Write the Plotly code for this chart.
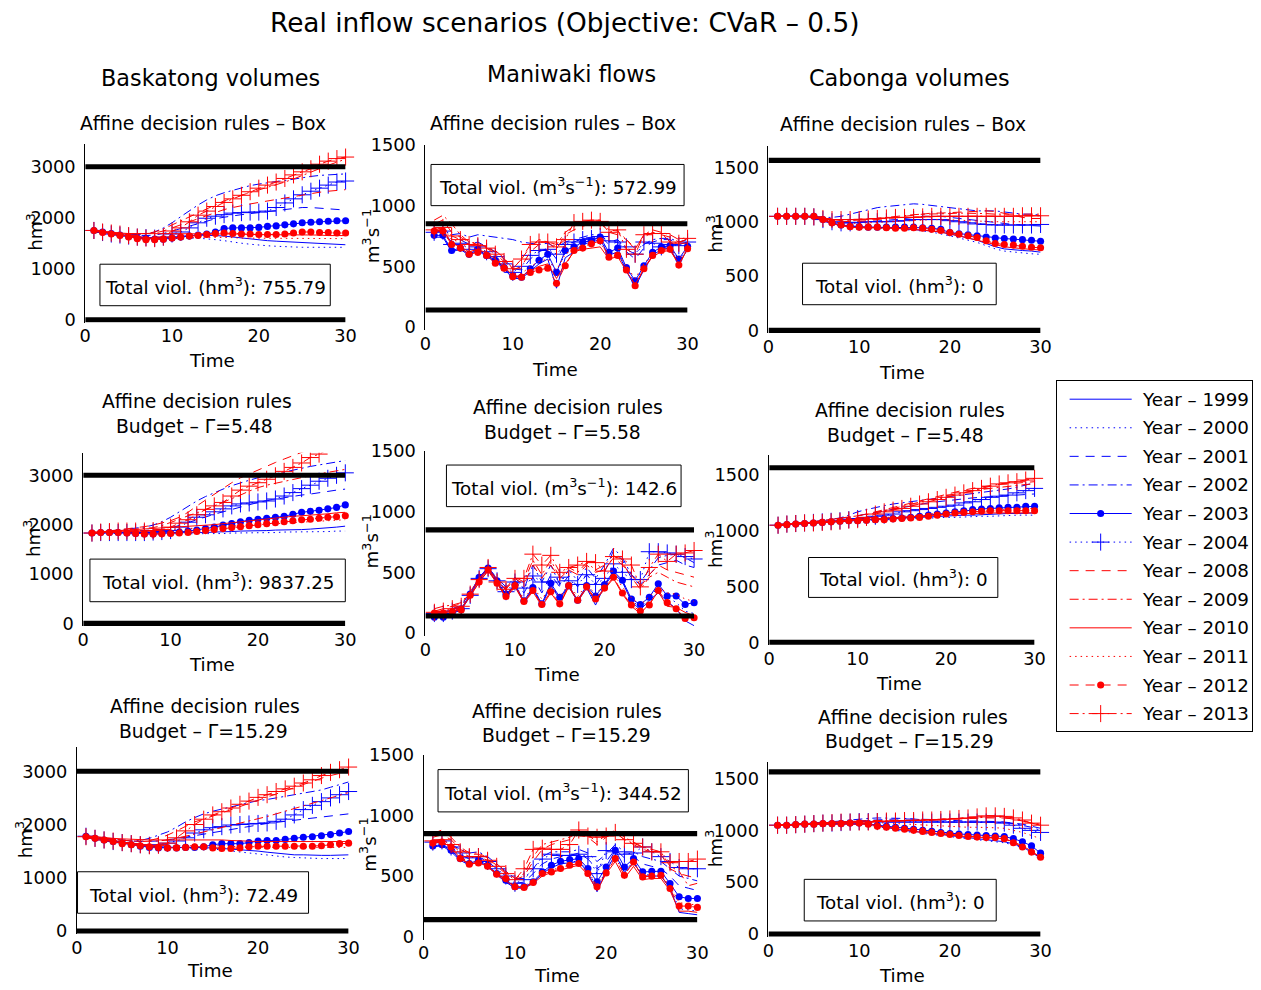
import plotly.graph_objects as go

# Layout is written in target-image pixels.  The page is captured from a
# 1280px-wide view (with the browser's 8px body margin) and fitted to
# 1261px, so target pixels are converted to figure pixels below.
S = 1261 / 1280
BODY = 8
W, H = 1264, 989
FONT = "DejaVu Sans"


def px(v):
    return v / S - BODY


def fx(x):
    return min(1.0, max(0.0, px(x) / W))


def fy(y):
    return min(1.0, max(0.0, 1 - px(y) / H))


def fs(size):
    return size / S


# ---------------------------------------------------------------- data
years = ["1999", "2000", "2001", "2002", "2003", "2004",
         "2008", "2009", "2010", "2011", "2012", "2013"]
time = list(range(1, 31))

# Baskatong volumes (hm3), one list per year, in the order of `years`
baskatong_box = [
    [1750,1720,1690,1660,1630,1610,1600,1600,1610,1620,1640,1650,1660,1660,1650,1640,1620,1600,1580,1560,1550,1540,1530,1520,1510,1500,1500,1490,1480,1470],
    [1750,1710,1680,1650,1620,1600,1590,1580,1580,1590,1600,1600,1600,1590,1570,1550,1520,1500,1480,1460,1450,1440,1430,1430,1420,1420,1420,1420,1420,1420],
    [1750,1720,1700,1680,1660,1650,1650,1660,1690,1740,1790,1840,1890,1940,1980,2010,2040,2060,2080,2100,2120,2140,2160,2180,2200,2200,2190,2180,2170,2150],
    [1750,1720,1700,1680,1670,1670,1680,1720,1800,1900,2020,2140,2250,2350,2430,2490,2540,2590,2630,2660,2690,2710,2730,2760,2790,2810,2830,2840,2850,2860],
    [1750,1720,1690,1660,1630,1600,1590,1580,1580,1600,1620,1640,1660,1680,1720,1790,1800,1800,1800,1810,1830,1840,1860,1880,1900,1910,1920,1930,1940,1940],
    [1750,1710,1680,1660,1640,1620,1610,1600,1620,1680,1720,1800,1900,1990,2030,2060,2090,2100,2110,2110,2130,2200,2290,2370,2450,2520,2580,2640,2700,2720],
    [1750,1720,1700,1690,1680,1680,1690,1700,1740,1800,1860,1920,1980,2040,2100,2160,2200,2240,2270,2300,2330,2360,2390,2420,2450,2480,2500,2520,2540,2550],
    [1750,1720,1700,1690,1680,1680,1690,1720,1780,1860,1940,2020,2100,2180,2260,2330,2390,2440,2490,2540,2590,2640,2700,2760,2830,2900,2970,3030,3090,3150],
    [1750,1730,1710,1700,1690,1690,1690,1690,1690,1690,1690,1690,1690,1690,1690,1690,1680,1680,1670,1670,1660,1660,1660,1660,1660,1660,1660,1650,1650,1650],
    [1750,1720,1690,1660,1640,1620,1610,1600,1600,1600,1600,1610,1620,1620,1620,1620,1610,1600,1600,1590,1590,1590,1590,1590,1590,1590,1590,1590,1590,1590],
    [1750,1710,1680,1650,1620,1590,1570,1570,1580,1600,1620,1640,1650,1670,1690,1700,1690,1680,1680,1670,1670,1670,1680,1700,1720,1720,1710,1710,1700,1700],
    [1750,1720,1700,1680,1650,1620,1600,1590,1620,1740,1800,1920,2050,2130,2220,2300,2370,2440,2510,2580,2640,2700,2770,2840,2900,2960,3050,3110,3160,3190],
]

# Maniwaki flows (m3/s)
maniwaki_box = [
    [740,740,620,640,590,630,580,540,480,400,400,460,520,560,320,570,620,680,700,720,590,620,460,330,470,590,640,650,520,640],
    [750,760,630,650,600,640,590,550,490,410,410,480,540,590,430,620,650,690,720,730,610,640,480,360,500,610,650,660,550,650],
    [780,790,700,720,680,700,660,620,560,480,470,560,620,650,560,680,700,730,740,750,680,700,620,560,650,700,720,720,680,700],
    [790,800,760,770,740,760,750,740,730,720,700,690,680,690,650,700,720,740,760,760,700,720,640,600,680,720,730,730,700,720],
    [755,755,630,650,600,640,590,550,490,420,410,480,550,600,450,630,660,700,710,740,615,650,490,380,505,615,660,670,560,665],
    [780,790,680,690,640,660,620,580,520,450,500,590,630,640,600,680,700,720,730,745,710,700,660,600,700,690,660,680,670,700],
    [850,880,780,740,700,680,650,620,560,470,500,620,680,700,640,760,800,830,850,860,780,760,720,650,740,780,760,740,700,720],
    [880,920,850,760,700,690,660,630,570,480,560,660,720,700,680,780,830,860,880,880,800,790,720,640,760,800,780,760,720,740],
    [790,800,690,660,620,640,610,560,500,420,420,460,500,520,400,520,620,640,650,660,560,580,460,350,480,580,620,630,520,640],
    [800,820,720,700,640,650,620,580,520,440,440,500,540,560,470,600,650,670,680,690,600,610,500,400,520,600,640,650,560,650],
    [790,790,680,650,600,615,590,525,485,415,410,450,470,485,360,505,630,650,685,710,575,590,470,340,480,590,630,640,510,645],
    [800,820,750,720,680,670,650,600,540,480,560,680,700,700,660,720,860,870,880,870,780,800,640,600,760,770,770,700,690,730],
]

# Cabonga volumes (hm3)
cabonga_box = [
    [1050,1050,1050,1050,1040,1010,985,965,955,950,950,950,945,940,935,930,925,915,905,890,870,850,830,800,770,750,740,735,730,720],
    [1050,1050,1050,1050,1040,1010,980,960,950,945,945,945,940,935,930,925,915,905,890,870,850,830,810,780,750,730,720,710,705,700],
    [1050,1050,1050,1050,1045,1030,1010,1000,995,995,1000,1005,1010,1020,1030,1040,1050,1050,1050,1040,1030,1020,1010,1000,990,980,975,970,965,960],
    [1050,1050,1050,1050,1045,1040,1040,1050,1070,1090,1110,1130,1140,1150,1160,1165,1160,1150,1140,1130,1120,1110,1100,1100,1100,1090,1080,1070,1070,1060],
    [1050,1050,1050,1050,1050,1020,990,970,960,955,950,950,950,950,950,950,945,940,930,900,890,880,870,860,850,845,840,835,830,820],
    [1050,1050,1050,1050,1045,1020,1000,990,990,995,1000,1000,1000,1005,1010,1020,1020,1020,1020,1010,1000,990,980,975,970,970,970,970,970,975],
    [1050,1050,1050,1050,1045,1030,1010,1000,1000,1005,1010,1020,1030,1040,1050,1060,1070,1080,1080,1085,1090,1095,1100,1100,1095,1080,1060,1040,1030,1030],
    [1050,1050,1050,1050,1045,1035,1020,1010,1010,1015,1020,1030,1040,1050,1060,1065,1070,1070,1070,1075,1080,1080,1080,1075,1070,1070,1070,1070,1070,1070],
    [1050,1050,1050,1050,1040,1010,985,965,950,945,945,945,945,940,935,930,925,915,905,890,870,850,830,810,790,770,760,750,745,740],
    [1050,1050,1050,1050,1045,1025,1000,990,985,985,990,995,1000,1005,1010,1015,1020,1020,1020,1020,1015,1010,1005,1000,1000,1000,1000,1000,1000,1000],
    [1050,1050,1050,1050,1050,1020,990,970,955,950,950,950,945,940,940,945,940,930,920,900,885,870,855,825,800,790,785,775,765,760],
    [1050,1050,1050,1050,1045,1030,1020,1020,1020,1020,1025,1030,1035,1040,1040,1040,1045,1050,1050,1050,1050,1050,1050,1050,1050,1050,1050,1055,1055,1055],
]

baskatong_budget_a = [
    [1830,1830,1830,1830,1830,1830,1830,1830,1830,1830,1830,1830,1840,1840,1850,1850,1860,1870,1870,1880,1880,1890,1890,1900,1900,1910,1920,1930,1950,1970],
    [1830,1830,1820,1820,1820,1810,1810,1810,1810,1810,1810,1810,1810,1820,1820,1820,1830,1830,1830,1840,1840,1840,1850,1850,1850,1860,1860,1860,1870,1870],
    [1830,1840,1850,1860,1870,1880,1880,1890,1900,1930,1980,2040,2100,2160,2210,2260,2310,2360,2410,2450,2490,2520,2550,2580,2600,2620,2650,2680,2700,2720],
    [1830,1850,1870,1890,1910,1930,1950,1990,2060,2150,2260,2380,2480,2570,2650,2720,2790,2850,2900,2950,2990,3030,3070,3110,3150,3180,3210,3240,3270,3300],
    [1830,1840,1840,1840,1830,1820,1810,1810,1820,1830,1850,1870,1890,1920,1950,1990,2020,2060,2090,2110,2130,2150,2170,2210,2250,2270,2290,2320,2350,2400],
    [1830,1840,1840,1840,1840,1840,1840,1850,1860,1880,1950,2050,2150,2200,2260,2320,2380,2420,2440,2460,2480,2520,2580,2650,2730,2800,2880,2940,3000,3050],
    [1830,1850,1870,1890,1910,1930,1960,1990,2030,2080,2150,2250,2380,2500,2620,2740,2850,2950,3030,3110,3190,3260,3330,3400,3470,3540,3600,3650,3700,3750],
    [1830,1850,1870,1890,1900,1910,1920,1940,1980,2040,2110,2180,2240,2300,2380,2450,2530,2600,2680,2750,2800,2840,2880,2920,2960,3000,3030,3060,3090,3120],
    [1840,1860,1870,1880,1890,1900,1910,1920,1930,1950,1960,1970,1980,1990,2000,2020,2040,2060,2080,2100,2120,2140,2150,2170,2180,2190,2210,2220,2240,2250],
    [1830,1840,1850,1860,1860,1860,1870,1870,1880,1890,1900,1910,1920,1930,1940,1950,1960,1980,1990,2000,2010,2020,2030,2040,2050,2060,2070,2080,2090,2100],
    [1830,1840,1840,1840,1830,1820,1810,1810,1815,1820,1830,1840,1860,1880,1900,1920,1940,1960,1980,2000,2020,2040,2060,2080,2100,2110,2130,2150,2160,2180],
    [1830,1850,1860,1870,1870,1870,1870,1880,1900,1950,2030,2100,2200,2310,2380,2450,2580,2700,2780,2850,2920,2990,3080,3160,3250,3360,3430,3520,3600,3680],
]

maniwaki_budget_a = [
    [130,130,160,190,300,450,520,420,310,390,250,360,230,390,280,380,260,370,230,390,490,420,260,190,270,330,260,200,100,60],
    [140,140,170,200,310,450,530,430,320,400,260,370,240,400,290,390,270,380,250,400,500,430,270,210,290,380,300,250,180,160],
    [170,180,200,230,330,460,540,440,350,420,330,460,330,480,380,470,380,480,400,500,680,600,450,400,480,560,580,600,560,540],
    [160,170,190,220,320,460,540,450,380,460,360,560,420,560,400,520,430,540,450,560,700,620,480,420,520,620,640,650,620,580],
    [130,130,170,200,320,460,535,430,320,400,265,375,240,410,295,390,270,390,305,400,510,435,280,235,295,405,305,305,235,250],
    [160,160,180,200,310,450,530,430,340,420,370,470,420,420,460,430,400,480,400,450,570,500,440,440,670,670,660,650,630,610],
    [180,200,220,240,330,450,530,440,360,450,400,560,450,560,450,520,480,560,500,520,620,560,480,380,480,560,520,500,480,460],
    [200,220,230,250,340,450,530,440,370,460,420,600,480,600,460,540,500,580,520,560,640,580,460,360,460,500,460,420,400,380],
    [150,160,180,200,300,420,510,410,290,380,250,340,220,330,230,380,260,370,270,360,450,320,220,160,240,340,220,210,170,140],
    [160,170,180,200,310,430,520,420,310,400,280,380,280,380,300,400,300,400,320,400,480,380,290,230,300,380,330,320,280,260],
    [165,165,175,190,310,420,520,410,300,390,260,350,235,340,240,390,270,380,280,370,460,330,230,180,230,350,250,200,120,125],
    [170,180,200,220,320,440,540,420,360,450,450,650,560,640,500,540,560,590,580,510,630,610,560,380,540,650,590,650,660,680],
]

cabonga_budget_a = [
    [1050,1055,1060,1065,1070,1075,1080,1085,1090,1095,1100,1105,1110,1110,1115,1120,1120,1125,1130,1130,1135,1140,1140,1145,1150,1150,1155,1155,1160,1160],
    [1050,1055,1060,1060,1065,1070,1075,1080,1085,1090,1090,1095,1100,1100,1105,1110,1110,1115,1115,1120,1120,1125,1125,1130,1130,1135,1135,1140,1140,1140],
    [1050,1060,1065,1070,1080,1085,1095,1105,1120,1135,1150,1165,1180,1195,1210,1225,1240,1250,1260,1270,1280,1290,1295,1300,1305,1310,1315,1320,1325,1330],
    [1050,1060,1065,1075,1080,1090,1100,1115,1140,1170,1190,1210,1225,1240,1250,1260,1270,1280,1290,1300,1310,1320,1330,1340,1350,1360,1375,1390,1410,1430],
    [1050,1055,1060,1065,1070,1075,1080,1085,1090,1090,1095,1100,1105,1110,1115,1120,1130,1140,1150,1160,1170,1180,1190,1195,1200,1205,1210,1210,1220,1220],
    [1050,1060,1065,1070,1075,1080,1085,1090,1100,1110,1120,1130,1140,1150,1170,1180,1190,1200,1210,1220,1230,1250,1260,1280,1300,1310,1320,1340,1360,1380],
    [1050,1060,1070,1075,1080,1090,1100,1110,1120,1135,1150,1170,1190,1210,1230,1250,1270,1290,1310,1330,1350,1365,1380,1395,1405,1415,1420,1430,1435,1440],
    [1050,1060,1070,1075,1080,1090,1100,1110,1120,1130,1145,1160,1180,1200,1220,1240,1260,1280,1300,1315,1330,1345,1360,1370,1380,1390,1400,1410,1415,1420],
    [1055,1060,1065,1070,1075,1080,1085,1090,1095,1100,1100,1105,1110,1115,1120,1125,1130,1135,1140,1145,1150,1155,1155,1160,1160,1160,1160,1160,1160,1160],
    [1050,1060,1065,1070,1075,1080,1085,1090,1095,1100,1105,1110,1115,1120,1130,1135,1140,1150,1155,1160,1165,1170,1175,1180,1185,1190,1195,1195,1200,1200],
    [1050,1055,1060,1065,1070,1075,1080,1085,1090,1090,1095,1100,1100,1105,1110,1115,1120,1130,1140,1150,1160,1165,1170,1175,1180,1180,1180,1180,1180,1180],
    [1050,1060,1065,1070,1070,1075,1080,1085,1095,1100,1120,1150,1170,1185,1200,1220,1240,1260,1280,1300,1320,1340,1360,1380,1400,1420,1430,1440,1455,1470],
]

baskatong_budget_b = [
    [1780,1750,1720,1690,1660,1630,1610,1590,1580,1570,1570,1570,1570,1570,1560,1550,1540,1520,1510,1500,1480,1460,1440,1430,1430,1420,1420,1420,1425,1430],
    [1780,1740,1710,1680,1650,1620,1600,1580,1570,1560,1560,1560,1560,1550,1540,1520,1500,1480,1460,1440,1420,1400,1390,1380,1370,1360,1360,1360,1360,1360],
    [1780,1760,1740,1720,1700,1690,1680,1680,1690,1710,1730,1760,1790,1820,1850,1880,1910,1940,1970,2000,2020,2040,2060,2080,2100,2120,2140,2160,2180,2200],
    [1780,1760,1740,1720,1700,1690,1700,1740,1800,1860,1950,2050,2130,2200,2250,2290,2330,2370,2410,2450,2470,2500,2520,2550,2580,2610,2650,2700,2750,2800],
    [1780,1740,1710,1680,1650,1620,1590,1570,1560,1560,1560,1570,1570,1580,1620,1640,1640,1640,1660,1690,1700,1700,1720,1740,1760,1770,1790,1810,1840,1870],
    [1780,1740,1710,1680,1660,1640,1620,1610,1620,1650,1690,1750,1840,1900,1940,1960,1990,2000,2010,2020,2030,2060,2100,2180,2280,2360,2430,2500,2560,2620],
    [1780,1760,1740,1720,1700,1690,1690,1700,1740,1800,1880,1970,2050,2100,2160,2220,2280,2340,2400,2460,2520,2580,2640,2700,2760,2820,2870,2920,2960,3000],
    [1780,1760,1740,1720,1700,1690,1680,1680,1690,1710,1740,1780,1820,1860,1900,1940,1980,2020,2060,2100,2150,2200,2250,2300,2350,2400,2450,2500,2550,2600],
    [1790,1770,1750,1740,1730,1720,1710,1710,1710,1710,1710,1710,1720,1720,1710,1710,1700,1690,1690,1680,1680,1680,1680,1680,1680,1680,1680,1680,1680,1680],
    [1780,1750,1720,1690,1660,1640,1620,1610,1600,1600,1600,1600,1610,1610,1600,1600,1590,1580,1580,1570,1570,1570,1570,1570,1570,1570,1570,1570,1570,1570],
    [1770,1740,1710,1680,1640,1620,1600,1580,1570,1560,1560,1570,1580,1580,1560,1550,1550,1560,1580,1590,1590,1590,1590,1590,1590,1590,1600,1620,1640,1650],
    [1770,1740,1710,1690,1660,1640,1620,1600,1610,1650,1750,1880,2000,2100,2180,2240,2310,2380,2440,2510,2560,2620,2670,2720,2780,2840,2920,2980,3030,3080],
]

maniwaki_budget_b = [
    [740,750,700,630,590,620,580,510,450,400,400,440,520,570,600,610,620,530,370,540,680,530,610,500,500,500,400,200,190,180],
    [745,755,705,635,595,625,585,515,460,405,405,445,525,575,605,615,625,540,400,550,690,540,620,510,510,510,410,230,220,210],
    [770,780,740,680,640,660,620,560,500,440,450,520,600,640,660,670,690,640,560,620,720,650,660,600,580,560,500,420,400,380],
    [790,800,760,720,690,700,660,600,540,480,480,560,660,700,700,700,720,690,620,680,760,700,700,660,640,620,560,500,480,460],
    [748,759,712,644,603,630,589,520,466,411,411,452,534,589,622,636,644,562,452,575,712,575,644,534,540,540,438,329,315,315],
    [780,790,740,690,650,660,620,560,500,440,470,560,640,680,670,670,680,660,520,710,700,680,690,740,700,660,620,570,560,560],
    [820,840,800,720,680,680,640,590,530,470,500,620,720,760,780,800,840,820,760,820,860,800,760,720,700,680,560,520,500,480],
    [850,880,820,740,690,690,650,600,540,480,520,660,760,780,800,820,860,840,780,840,880,820,780,740,720,700,580,540,420,440],
    [780,790,730,650,600,610,580,510,460,410,400,440,500,530,550,570,590,510,380,520,620,480,580,470,480,480,380,210,210,200],
    [790,800,740,660,610,620,590,520,470,420,420,460,520,550,570,590,610,540,420,540,650,520,600,500,500,500,420,280,270,260],
    [772,781,740,644,597,608,581,515,479,411,405,447,521,534,562,589,603,521,411,526,644,507,616,493,499,507,397,252,252,241],
    [790,800,760,700,660,660,630,580,520,470,560,720,730,720,720,760,880,830,820,830,860,800,770,740,700,700,610,620,620,640],
]

cabonga_budget_b = [
    [1050,1050,1055,1060,1060,1065,1065,1065,1065,1065,1060,1050,1030,1010,1000,990,980,970,960,950,940,930,920,910,900,890,870,840,790,730],
    [1050,1050,1055,1060,1060,1060,1060,1060,1060,1060,1050,1040,1020,1000,990,980,970,960,950,940,930,920,910,900,890,880,860,830,780,710],
    [1050,1055,1060,1065,1070,1075,1080,1085,1090,1095,1100,1105,1110,1110,1110,1110,1110,1105,1100,1095,1090,1090,1090,1090,1085,1080,1070,1060,1040,1020],
    [1050,1055,1060,1070,1075,1080,1085,1090,1100,1110,1115,1120,1120,1120,1115,1110,1100,1090,1085,1080,1080,1080,1080,1080,1080,1075,1065,1050,1030,1000],
    [1050,1050,1055,1060,1060,1065,1065,1065,1070,1070,1065,1050,1040,1030,1020,1010,1000,990,980,970,965,960,955,950,945,940,920,890,850,780],
    [1050,1050,1055,1060,1065,1070,1070,1075,1080,1085,1085,1085,1080,1080,1080,1080,1080,1080,1080,1080,1080,1080,1080,1080,1080,1070,1050,1020,1000,980],
    [1050,1055,1060,1065,1070,1075,1080,1085,1090,1095,1095,1095,1095,1100,1100,1100,1100,1105,1110,1110,1110,1115,1120,1120,1120,1120,1110,1090,1070,1050],
    [1050,1055,1060,1065,1070,1075,1080,1085,1090,1090,1090,1090,1090,1090,1095,1095,1100,1100,1105,1110,1115,1120,1125,1130,1130,1125,1110,1090,1070,1060],
    [1050,1050,1055,1060,1060,1060,1060,1060,1065,1065,1060,1045,1030,1015,1000,990,980,970,960,950,945,940,935,930,925,920,890,850,800,740],
    [1050,1050,1055,1060,1065,1070,1070,1075,1075,1080,1080,1075,1070,1065,1060,1055,1050,1045,1040,1035,1030,1030,1030,1030,1025,1020,1000,980,950,920],
    [1050,1050,1055,1060,1060,1065,1065,1065,1070,1070,1060,1040,1030,1020,1010,1000,990,980,970,960,950,940,935,930,930,920,880,840,790,740],
    [1050,1050,1055,1060,1065,1070,1075,1080,1080,1080,1080,1085,1090,1090,1095,1095,1100,1100,1105,1110,1115,1120,1130,1140,1140,1135,1120,1100,1070,1050],
]

# operating bounds
baskatong_bounds = [0, 3000]
maniwaki_bounds = [140, 850]
cabonga_bounds = [0, 1565]

violations = ["755.79", "572.99", "0",
              "9837.25", "142.6", "0",
              "72.49", "344.52", "0"]
gammas = ["5.48", "5.58", "5.48", "15.29", "15.29", "15.29"]

# ---------------------------------------------------------------- styles
BLUE, RED = "#0000ff", "#ff0000"
DOT, DASH, DASHDOT = "1.5px,4px", "9px,7px", "9px,4px,2px,4px"
styles = [
    (BLUE, "solid", None), (BLUE, DOT, None), (BLUE, DASH, None),
    (BLUE, DASHDOT, None), (BLUE, "solid", "dot"), (BLUE, DOT, "plus"),
    (RED, DASH, None), (RED, DASHDOT, None), (RED, "solid", None),
    (RED, DOT, None), (RED, DASH, "dot"), (RED, DASHDOT, "plus"),
]


def marker_of(kind, color):
    if kind == "dot":
        return dict(symbol="circle", size=fs(7), color=color, line=dict(width=0))
    if kind == "plus":
        return dict(symbol="cross-thin", size=fs(12), color=color,
                    line=dict(width=1, color=color))
    return None


HM3 = "hm<sup>3</sup>"
FLOW = "m<sup>3</sup>s<sup>−1</sup>"

# panel geometry in target pixels: x=0, x=30, y=0, reference tick pixel/value, top
panels = [
    dict(data=baskatong_box, b=baskatong_bounds, unit=HM3, ticks=[0, 1000, 2000, 3000],
         l=87, r=347, p0=318.3, pr=165.0, rv=3000, top=142.7),
    dict(data=maniwaki_box, b=maniwaki_bounds, unit=FLOW, ticks=[0, 500, 1000, 1500],
         l=426.7, r=688.5, p0=325.7, pr=143.0, rv=1500, top=142.8),
    dict(data=cabonga_box, b=cabonga_bounds, unit=HM3, ticks=[0, 500, 1000, 1500],
         l=769.3, r=1041, p0=329.0, pr=165.7, rv=1500, top=144.7),
    dict(data=baskatong_budget_a, b=baskatong_bounds, unit=HM3, ticks=[0, 1000, 2000, 3000],
         l=85, r=346.7, p0=622.7, pr=474.3, rv=3000, top=451.7),
    dict(data=maniwaki_budget_a, b=maniwaki_bounds, unit=FLOW, ticks=[0, 500, 1000, 1500],
         l=426.7, r=695, p0=632.3, pr=450.0, rv=1500, top=449.8),
    dict(data=cabonga_budget_a, b=cabonga_bounds, unit=HM3, ticks=[0, 500, 1000, 1500],
         l=770, r=1035, p0=641.7, pr=474.0, rv=1500, top=454.0),
    dict(data=baskatong_budget_b, b=baskatong_bounds, unit=HM3, ticks=[0, 1000, 2000, 3000],
         l=78.7, r=350, p0=931.0, pr=771.0, rv=3000, top=747.0),
    dict(data=maniwaki_budget_b, b=maniwaki_bounds, unit=FLOW, ticks=[0, 500, 1000, 1500],
         l=425, r=698.3, p0=936.7, pr=754.5, rv=1500, top=754.3),
    dict(data=cabonga_budget_b, b=cabonga_bounds, unit=HM3, ticks=[0, 500, 1000, 1500],
         l=769.3, r=1041, p0=934.0, pr=778.3, rv=1500, top=761.7),
]

# text placements (target pixel centres)
ylabel_pos = [(36, 230), (372, 235), (715, 232), (34, 537), (372, 541),
              (715, 548), (26, 839), (370, 845), (715, 848)]
xlabel_pos = [(214, 359), (556, 368), (903, 371), (214, 664), (558, 674),
              (900, 683), (212, 971), (558, 976), (903, 976)]
box_rect = [(101.7, 262.7, 331.7, 304.3), (432.3, 162.7, 685, 204),
            (803.3, 261.7, 996.7, 303.3), (91.7, 558.3, 346.7, 601),
            (447.7, 464, 682, 505.7), (809.3, 556.7, 998.3, 596.7),
            (79.3, 871.7, 310, 913.3), (439.3, 769.3, 689.3, 811.7),
            (805, 879.3, 996.7, 921)]
title_box_pos = [(205, 122), (554.5, 122), (903.5, 123)]
title_budget_pos = [((198.5, 400), (196, 425)), ((569.5, 406), (564, 431)),
                    ((911, 409), (906, 434)), ((206.5, 706), (205.5, 731)),
                    ((568, 711), (568, 735)), ((914, 717), (910.5, 741))]

fig = go.Figure()
annotations = []
shapes = []


def ann(text, x, y, size, **kw):
    d = dict(text=text, x=fx(x), y=fy(y), xref="paper", yref="paper",
             showarrow=False, xanchor="center", yanchor="middle",
             font=dict(size=fs(size), family=FONT, color="black"))
    d.update(kw)
    return d


TICK_FONT = dict(size=fs(17.5), family=FONT, color="black")

layout_axes = {}
for i, p in enumerate(panels):
    n = i + 1
    xa = "x" if n == 1 else f"x{n}"
    ya = "y" if n == 1 else f"y{n}"
    k = (p["p0"] - p["pr"]) / p["rv"]          # target pixels per unit
    pad = 3.0
    ymin = -pad / k
    ymax = (p["p0"] - p["top"]) / k
    if p["unit"] == FLOW:
        ymax = max(ymax, 1502)
    layout_axes["xaxis" if n == 1 else f"xaxis{n}"] = dict(
        domain=[fx(p["l"]), fx(p["r"])], range=[0, 30], anchor=ya,
        tickvals=[0, 10, 20, 30], ticks="", showline=False, showgrid=False,
        zeroline=False, ticklabelstandoff=1, tickfont=TICK_FONT)
    layout_axes["yaxis" if n == 1 else f"yaxis{n}"] = dict(
        domain=[fy(p["p0"] + pad), fy(p["top"])], range=[ymin, ymax],
        anchor=xa, tickvals=p["ticks"], ticks="", showline=True,
        linecolor="black", linewidth=1, showgrid=False, zeroline=False,
        ticklabelstandoff=5, tickfont=TICK_FONT)

    for j, series in enumerate(p["data"]):
        color, dash, mk = styles[j]
        m = marker_of(mk, color)
        clip = True if (i == 3 and j == 11) else False
        fig.add_trace(go.Scatter(
            x=time, y=series, xaxis=xa, yaxis=ya,
            mode="lines+markers" if m else "lines",
            line=dict(color=color, width=1, dash=dash),
            marker=m, cliponaxis=clip, showlegend=False,
            name=f"Year – {years[j]}"))
    for bv in p["b"]:
        fig.add_trace(go.Scatter(
            x=[0, 30], y=[bv, bv], xaxis=xa, yaxis=ya, mode="lines",
            line=dict(color="black", width=fs(5)), showlegend=False,
            hoverinfo="skip"))

    # axis titles
    lx, ly = ylabel_pos[i]
    annotations.append(ann(p["unit"], lx, ly, 18, textangle=-90))
    tx, ty = xlabel_pos[i]
    annotations.append(ann("Time", tx, ty, 18))

    # violation box
    x0, y0, x1, y1 = box_rect[i]
    shapes.append(dict(type="rect", xref="paper", yref="paper",
                       x0=fx(x0), x1=fx(x1), y0=fy(y1), y1=fy(y0),
                       line=dict(color="black", width=1),
                       fillcolor="rgba(0,0,0,0)", layer="above"))
    annotations.append(ann(f"Total viol. ({p['unit']}): {violations[i]}",
                           (x0 + x1) / 2, (y0 + y1) / 2 + 1, 18))

# panel titles
for (cx, cy) in title_box_pos:
    annotations.append(ann("Affine decision rules – Box", cx, cy, 18.5))
for (first, second), g in zip(title_budget_pos, gammas):
    annotations.append(ann("Affine decision rules", first[0], first[1], 18.5))
    annotations.append(ann(f"Budget – Γ={g}", second[0], second[1], 18.5))

# column headers and figure title
annotations.append(ann("Baskatong volumes", 212.5, 76, 22))
annotations.append(ann("Maniwaki flows", 572.5, 72, 22))
annotations.append(ann("Cabonga volumes", 910.5, 76, 22))
annotations.append(ann("Real inflow scenarios (Objective: CVaR – 0.5)", 566, 21, 26))

# ---------------------------------------------------------------- legend
LX0, LX1, LY0, LY1 = 1057, 1252.5, 380, 731
layout_axes["xaxis10"] = dict(domain=[fx(LX0), fx(LX1)], range=[0, LX1 - LX0],
                              anchor="y10", showline=True, mirror=True,
                              linecolor="black", linewidth=1, ticks="",
                              showticklabels=False, showgrid=False, zeroline=False)
layout_axes["yaxis10"] = dict(domain=[fy(LY1), fy(LY0)], range=[LY1 - LY0, 0],
                              anchor="x10", showline=True, mirror=True,
                              linecolor="black", linewidth=1, ticks="",
                              showticklabels=False, showgrid=False, zeroline=False)
for j, yr in enumerate(years):
    color, dash, mk = styles[j]
    yy = 18 + j * 28.65
    fig.add_trace(go.Scatter(x=[13, 75], y=[yy, yy], xaxis="x10", yaxis="y10",
                             mode="lines", line=dict(color=color, width=1, dash=dash),
                             showlegend=False, hoverinfo="skip"))
    m = marker_of(mk, color)
    if m:
        fig.add_trace(go.Scatter(x=[44], y=[yy], xaxis="x10", yaxis="y10",
                                 mode="markers", marker=m, showlegend=False,
                                 hoverinfo="skip"))
    annotations.append(dict(text=f"Year – {yr}", x=83, y=yy, xref="x10", yref="y10",
                            showarrow=False, xanchor="left", yanchor="middle",
                            font=dict(size=fs(18), family=FONT, color="black")))

fig.update_layout(
    width=W, height=H, margin=dict(l=0, r=0, t=0, b=0),
    paper_bgcolor="white", plot_bgcolor="rgba(0,0,0,0)",
    showlegend=False, annotations=annotations, shapes=shapes,
    font=dict(family=FONT, color="black"),
    **layout_axes,
)

fig.write_html("out.html")
